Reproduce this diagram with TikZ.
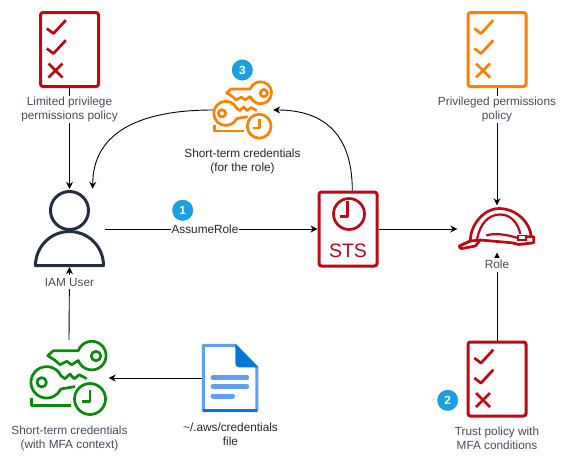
\documentclass[tikz,border=0pt]{standalone}
\usepackage{fontspec}
\setmainfont{Liberation Sans}
\usetikzlibrary{arrows.meta, positioning, calc}
\definecolor{policyred}{RGB}{191, 8, 22}
\definecolor{policyorange}{RGB}{255, 128, 0}
\definecolor{keygreen}{RGB}{10, 138, 10}
\definecolor{userdark}{RGB}{35, 47, 62}
\definecolor{labelgray}{RGB}{68, 77, 90}
\definecolor{badgeblue}{RGB}{27, 161, 226}
\definecolor{filelight}{RGB}{94, 160, 239}
\definecolor{filedark}{RGB}{0, 120, 212}

\begin{document}
\begin{tikzpicture}[
  x=1pt, y=1pt,
  font=\fontsize{11.8}{14}\selectfont,
  iconline/.style={line width=2.7pt, line join=round},
  flow/.style={-{Stealth[length=7pt, width=7pt]}, line width=0.9pt, draw=black},
  policybox/.style={
    rectangle, draw=#1, line width=3pt, rounded corners=2.5pt,
    minimum width=58pt, minimum height=74pt, inner sep=0pt
  },
  iconbox/.style={rectangle, inner sep=0pt, minimum width=#1},
  caption/.style={fill=white, inner sep=1pt, align=center, text=labelgray, minimum height=14pt},
  darkcaption/.style={caption, text=black!85},
  badge/.style={
    circle, fill=badgeblue, draw=badgeblue!85!black, line width=0.3pt,
    minimum size=20.5pt, inner sep=0pt,
    text=white, font=\fontsize{11.8}{11}\selectfont\bfseries
  },
  pics/checkmarks/.style={code={
    \draw[iconline, #1] (-22.7,21) -- (-16,16) -- (-3.7,29.3);
    \draw[iconline, #1] (-22.7,1) -- (-16,-4) -- (-3.7,9.3);
    \draw[iconline, #1] (-21,-14) -- (-7,-28) (-21,-28) -- (-7,-14);
  }},
  pics/keyset/.style={code={
    % upper key
    \draw[iconline, #1] (9.3,27.3) arc[start angle=160, end angle=-160, radius=14.3]
      -- (2.7,13.3) -- (-2.3,16.7) -- (-9,13.3) -- (-14,17.7) -- (-21.3,22.3) -- (-15.7,27.3) -- cycle;
    \draw[iconline, #1] (27,22) circle (4.7);
    % lower key
    \draw[iconline, #1] (17.7,-0.7) -- (10.3,3.3) -- (5,-0.7) -- (1,4) -- (-4,-0.7) -- (-8.1,2.3)
      arc[start angle=25, end angle=335, radius=15.7] -- (6,-8.6);
    \draw[iconline, #1] (-27.3,-4.3) circle (4.7);
    % clock and bracket
    \draw[iconline, #1] (21,-21) circle (15.5);
    \draw[iconline, #1] (21,-11.5) -- (21,-23.5) -- (12.5,-23.5);
    \draw[iconline, #1] (-37.3,-20) -- (-37.3,-27.3) -- (1.7,-27.3);
  }},
]
\useasboundingbox (0,0) rectangle (567,-464);

%% Policy boxes
\node[policybox=policyred] (limitedPolicy) at (69.5,-49.5) {};
\pic at (limitedPolicy.center) {checkmarks=policyred};
\node[policybox=policyorange] (privPolicy) at (497,-49.5) {};
\pic at (privPolicy.center) {checkmarks=policyorange};
\node[policybox=policyred] (trustPolicy) at (497,-379) {};
\pic at (trustPolicy.center) {checkmarks=policyred};

%% IAM user
\node[iconbox=71pt, minimum height=76pt] (userIcon) at (69.5,-229) {};
\draw[userdark, line width=3pt] (69.5,-210.5) circle (19);
\draw[userdark, line width=3pt, line join=round] (35.5,-265.5) arc[start angle=180, end angle=0, radius=34] -- cycle;

%% Credentials
\node[iconbox=79pt, minimum height=76pt] (greenKeys) at (69,-378) {};
\pic at (greenKeys.center) {keyset=keygreen};
\node[iconbox=60pt, minimum height=58pt] (orangeKeys) at (243,-110) {};
\pic[scale=0.77] at (orangeKeys.center) {keyset=policyorange};

%% STS
\node[policybox=policyred, minimum width=58pt, minimum height=74pt] (stsBox) at (348,-229) {};
\draw[iconline, policyred] (349,-214) circle (15.5);
\draw[iconline, policyred] (347.3,-201) -- (347.3,-216.7) -- (340,-216.7);
\node[text=policyred, font=\fontsize{19.5}{20}\selectfont, inner sep=0pt] (stsText) at (348,-251) {STS};

%% Role hard hat
\node[iconbox=79pt, minimum height=47pt] (roleIcon) at (497,-229) {};
\begin{scope}[shift={(roleIcon.center)}]
  \draw[iconline, policyred] (-26.7,-12) .. controls (-27,2) and (-15,20) .. (1.7,20.5)
    .. controls (20,20.5) and (33,6) .. (34.3,-7.5);
  \draw[iconline, policyred] (-26.7,-12) -- (-37.7,-17) .. controls (-38,-19) and (-36,-20) .. (-35,-19.5)
    -- (-21.7,-17) -- (-16.7,-11) -- (15,-13.8) -- (21.7,-15.5) -- (36.7,-13.8) -- (36.7,-7.8) -- (29,-7.8);
  \draw[iconline, policyred] (-37.7,-17) -- (-26.7,-12) -- (-16.7,-11);
  \draw[line width=2.2pt, policyred] (-20,-10.5) .. controls (-17,6) and (-8,14.5) .. (3,14.5)
    .. controls (14,14.5) and (21,6) .. (23.3,-5);
  \draw[line width=2.2pt, policyred] (-10.7,-6.5) .. controls (-4,-4) and (8,-5) .. (20,-8.8);
  \draw[line width=1.8pt, policyred] (20.7,-6.5) rectangle (29,-11);
\end{scope}

%% Credentials file
\node[iconbox=56.5pt, minimum height=68pt] (credFile) at (230,-378) {};
\begin{scope}[shift={(credFile.center)}]
  \draw[line width=3pt, filelight, fill=white, line join=round]
    (-26.7,32.7) -- (5.3,32.7) -- (26.8,10.7) -- (26.8,-32.7) -- (-26.7,-32.7) -- cycle;
  \draw[line width=3pt, filedark] (-26.7,-32.7) -- (26.8,-32.7);
  \fill[filedark] (5.3,34) -- (28.3,10.7) -- (9,10.7) .. controls (6,10.7) and (5.3,13) .. (5.3,15) -- cycle;
  \draw[line width=5pt, filelight, line cap=round] (-17,0.7) -- (16.7,0.7);
  \draw[line width=5pt, filelight, line cap=round] (-17,-8.7) -- (16.7,-8.7);
  \draw[line width=5pt, filelight, line cap=round] (-17,-18) -- (2.5,-18);
\end{scope}

%% Connectors
\coordinate (stsOut) at ([xshift=4.3pt]stsBox.north);
\coordinate (userIn) at ([xshift=23.2pt, yshift=2pt]userIcon.north);
\draw[flow] (limitedPolicy.south) -- ([yshift=2pt]userIcon.north);
\draw[flow] (privPolicy.south) -- (roleIcon.north);
\draw[flow] (trustPolicy.north) -- (roleIcon.south);
\draw[flow] (greenKeys.north) -- (userIcon.south);
\draw[flow] (credFile.west) -- (greenKeys.east);
\draw[flow] (stsBox.east) -- (roleIcon.west);
\draw[flow] (stsOut) .. controls ([yshift=62pt]stsOut) and (318,-110) .. (orangeKeys.east);
\draw[flow] (orangeKeys.west) .. controls (135,-110) and (92.7,-135) .. (userIn);
\draw[flow] (userIcon.east) -- node[pos=0.47, darkcaption, inner sep=0.5pt] (assumeLabel) {AssumeRole} (stsBox.west);

%% Captions
\node[caption] (limitedLabel) at (69.5,-109.5) {Limited privilege\\permissions policy};
\node[caption] (privLabel) at (497,-109.5) {Privileged permissions\\policy};
\node[caption] (userLabel) at (69.5,-282) {IAM User};
\node[caption] (roleLabel) at (497,-264.5) {Role};
\node[darkcaption] (orangeLabel) at (242.5,-161) {Short-term credentials\\(for the role)};
\node[caption] (greenLabel) at (69.5,-438) {Short-term credentials\\(with MFA context)};
\node[darkcaption] (fileLabel) at (230.5,-434) {\textasciitilde/.aws/credentials\\file};
\node[caption] (trustLabel) at (497,-438) {Trust policy with\\MFA conditions};

%% Step badges
\node[badge] (stepOne) at (182.7,-210.3) {1};
\node[badge] (stepTwo) at (447.7,-400.3) {2};
\node[badge] (stepThree) at (242.3,-70) {3};

\end{tikzpicture}
\end{document}
